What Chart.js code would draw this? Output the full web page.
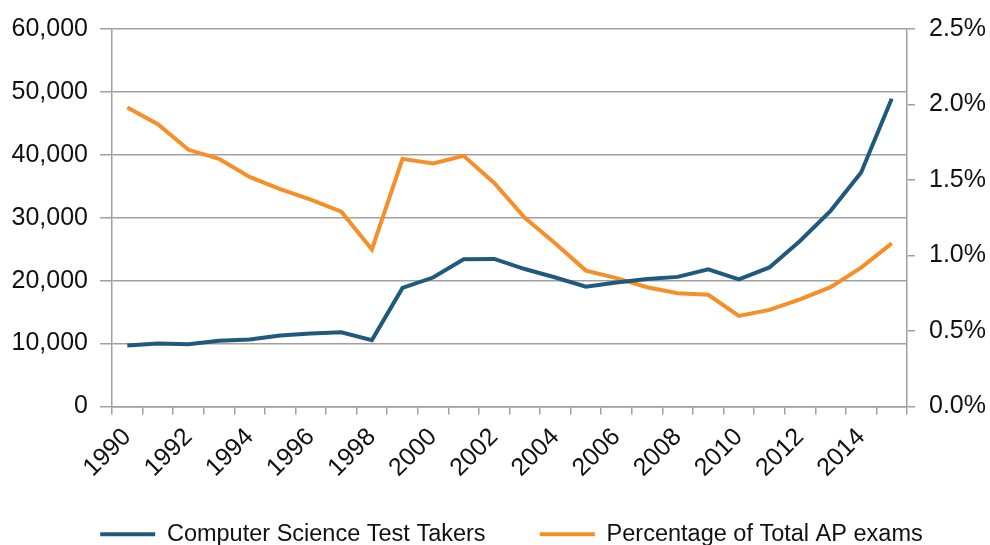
<!DOCTYPE html>
<html>
<head>
<meta charset="utf-8">
<script src="https://cdn.jsdelivr.net/npm/chart.js@4"></script>
<style>
  html, body { margin: 0; padding: 0; background: #fff; }
  #wrap { width: 990px; height: 545px; }
</style>
</head>
<body>
<div id="wrap"><canvas id="chart"></canvas></div>
<script>
// years on the x axis
const years = [];
for (let y = 1990; y <= 2015; y++) years.push(String(y));

// AP Computer Science test takers (left axis)
const testTakers = [9700, 10000, 9900, 10450, 10650, 11300, 11600, 11800, 10550,
  18850, 20500, 23400, 23450, 21850, 20500, 19050, 19700, 20250, 20600,
  21800, 20200, 22100, 26300, 31100, 37200, 48900];

// share of all AP exams, percent (right axis)
const pctOfAP = [1.98, 1.87, 1.70, 1.64, 1.52, 1.44, 1.37, 1.29, 1.04,
  1.64, 1.61, 1.66, 1.48, 1.25, 1.08, 0.90, 0.85, 0.79, 0.75,
  0.74, 0.60, 0.64, 0.71, 0.79, 0.92, 1.08];

const BLUE = "#1f5a7e";
const ORANGE = "#f78f28";
const GRID = "#a0a0a0";
const FONT = "'Liberation Sans', Arial, sans-serif";

new Chart(document.getElementById("chart"), {
  type: "line",
  data: {
    labels: years,
    datasets: [
      {
        label: "Computer Science Test Takers",
        data: testTakers,
        yAxisID: "y",
        borderColor: BLUE,
        backgroundColor: BLUE,
        borderWidth: 4,
        pointRadius: 0,
        tension: 0,
      },
      {
        label: "Percentage of Total AP exams",
        data: pctOfAP,
        yAxisID: "y1",
        borderColor: ORANGE,
        backgroundColor: ORANGE,
        borderWidth: 4,
        pointRadius: 0,
        tension: 0,
      },
    ],
  },
  options: {
    responsive: true,
    maintainAspectRatio: false,
    animation: false,
    layout: { padding: { top: 13, left: 0, right: 0, bottom: -11 } },
    plugins: {
      legend: {
        position: "bottom",
        align: "end",
        labels: {
          color: "#111",
          font: { family: FONT, size: 23.5 },
          boxWidth: 55,
          boxHeight: 4,
          padding: 2,
          // plain filled bar, no outline; trailing room so entries sit like the original
          generateLabels: (chart) =>
            Chart.defaults.plugins.legend.labels.generateLabels(chart).map((l, i) => {
              l.lineWidth = 0;
              l.text = l.text + " ".repeat(i === 0 ? 8 : 10);
              return l;
            }),
        },
      },
      tooltip: { enabled: false },
    },
    scales: {
      x: {
        offset: true,
        afterFit: (s) => { s.height = 114; },
        grid: {
          offset: true,
          drawOnChartArea: false,
          drawTicks: true,
          tickLength: 8,
          color: GRID,
          lineWidth: 1.5,
        },
        border: { color: GRID, width: 1.5 },
        ticks: {
          autoSkip: false,
          maxRotation: 45,
          minRotation: 45,
          color: "#111",
          padding: 8,
          font: { family: FONT, size: 25 },
          callback: function (value, index) {
            return index % 2 === 0 ? this.getLabelForValue(value) : "";
          },
        },
      },
      y: {
        position: "left",
        min: 0,
        max: 60000,
        afterFit: (s) => { s.width = 112; },
        grid: { color: GRID, lineWidth: 1.5, tickLength: 12 },
        border: { color: GRID, width: 1.5 },
        ticks: {
          stepSize: 10000,
          color: "#111",
          font: { family: FONT, size: 25 },
          padding: 12,
          callback: (v) => v.toLocaleString("en-US"),
        },
      },
      y1: {
        position: "right",
        min: 0,
        max: 2.5,
        afterFit: (s) => { s.width = 83; },
        grid: { drawOnChartArea: false, color: GRID, lineWidth: 1.5, tickLength: 8 },
        border: { color: GRID, width: 1.5 },
        ticks: {
          stepSize: 0.5,
          color: "#111",
          font: { family: FONT, size: 25 },
          padding: 14,
          callback: (v) => v.toFixed(1) + "%",
        },
      },
    },
  },
});
</script>
</body>
</html>
